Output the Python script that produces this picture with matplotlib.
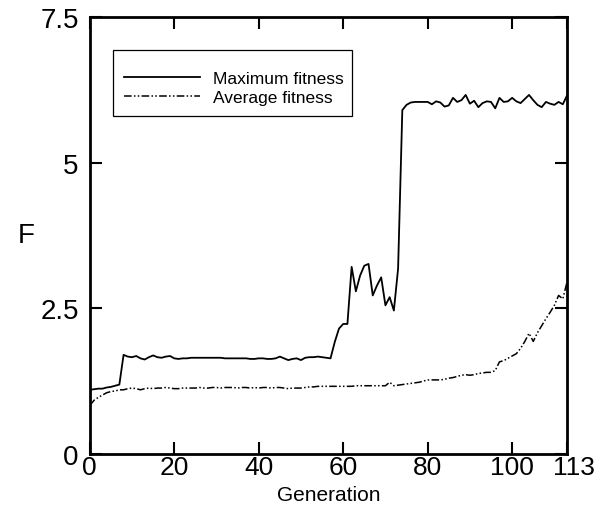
import numpy as np
import matplotlib
matplotlib.use("Agg")
import matplotlib.pyplot as plt
import matplotlib.transforms as mtransforms
from matplotlib.patches import Rectangle

plt.rcParams['font.family'] = ['Liberation Sans', 'DejaVu Sans']

# generations 0..113
generation = np.arange(0, 114)

max_fit = [1.10, 1.11, 1.12, 1.12, 1.14, 1.15, 1.17, 1.19, 1.70, 1.67,
           1.66, 1.68, 1.64, 1.62, 1.66, 1.69, 1.66, 1.65, 1.67, 1.68,
           1.64, 1.63, 1.64, 1.64, 1.65, 1.65, 1.65, 1.65, 1.65, 1.65,
           1.65, 1.65, 1.64, 1.64, 1.64, 1.64, 1.64, 1.64, 1.63, 1.63,
           1.64, 1.64, 1.63, 1.63, 1.64, 1.67, 1.64, 1.61, 1.63, 1.64,
           1.61, 1.65, 1.66, 1.66, 1.67, 1.66, 1.65, 1.64, 1.92, 2.15,
           2.23, 2.23, 3.21, 2.79, 3.06, 3.23, 3.26, 2.72, 2.89, 3.03,
           2.55, 2.69, 2.46, 3.18, 5.90, 5.99, 6.03, 6.04, 6.04, 6.04,
           6.04, 6.00, 6.05, 6.03, 5.96, 5.98, 6.11, 6.04, 6.07, 6.16,
           6.01, 6.06, 5.95, 6.02, 6.05, 6.04, 5.93, 6.11, 6.04, 6.05,
           6.11, 6.05, 6.02, 6.09, 6.16, 6.07, 5.99, 5.95, 6.04, 6.01,
           5.99, 6.04, 6.00, 6.15]

avg_fit = [0.83, 0.92, 0.97, 1.01, 1.05, 1.07, 1.08, 1.10, 1.10, 1.12,
           1.13, 1.12, 1.10, 1.12, 1.13, 1.12, 1.13, 1.13, 1.14, 1.13,
           1.12, 1.12, 1.13, 1.13, 1.13, 1.13, 1.14, 1.13, 1.13, 1.14,
           1.14, 1.13, 1.14, 1.14, 1.14, 1.13, 1.14, 1.14, 1.13, 1.14,
           1.13, 1.14, 1.14, 1.13, 1.14, 1.14, 1.13, 1.12, 1.13, 1.13,
           1.13, 1.14, 1.15, 1.15, 1.16, 1.16, 1.16, 1.16, 1.16, 1.16,
           1.16, 1.16, 1.16, 1.17, 1.17, 1.17, 1.17, 1.17, 1.17, 1.17,
           1.17, 1.23, 1.17, 1.18, 1.19, 1.20, 1.21, 1.22, 1.23, 1.25,
           1.27, 1.27, 1.27, 1.27, 1.28, 1.30, 1.31, 1.33, 1.35, 1.36,
           1.35, 1.36, 1.38, 1.39, 1.40, 1.40, 1.43, 1.58, 1.60, 1.64,
           1.68, 1.72, 1.81, 1.93, 2.07, 1.93, 2.08, 2.20, 2.32, 2.43,
           2.55, 2.72, 2.66, 2.95]

xticks = [0, 20, 40, 60, 80, 100, 113]
yticks = [0, 2.5, 5, 7.5]
ytick_labels = ['0', '2.5', '5', '7.5']

fig = plt.figure(figsize=(6.15, 5.1), dpi=100)
ax = fig.add_axes([0.146, 0.108, 0.776, 0.857])

ax.plot(generation, max_fit, color='black', lw=1.3, label='Maximum fitness')
ax.plot(generation, avg_fit, color='black', lw=1.1,
        linestyle=(0, (5, 1.5, 1, 1.5, 1, 1.5)), label='Average fitness')

ax.set_xlim(0, 113)
ax.set_ylim(0, 7.5)
ax.set_xticks(xticks)
ax.set_yticks(yticks)
ax.set_yticklabels(ytick_labels)
ax.tick_params(direction='in', length=8.5, width=1.5, labelsize=20,
               top=True, right=True)
ax.tick_params(axis='y', pad=8)
ax.tick_params(axis='x', pad=1, labelsize=19)
for s in ax.spines.values():
    s.set_linewidth(2)

# the last label sits a little to the right in the original
last = ax.get_xticklabels()[-1]
last.set_transform(last.get_transform() +
                   mtransforms.ScaledTranslation(0.07, 0, fig.dpi_scale_trans))

ax.set_xlabel('Generation', fontsize=15, va='center')
ax.xaxis.set_label_coords(0.5, -0.092)
ax.set_ylabel('F', fontsize=20, rotation=0, ha='center', va='center')
ax.yaxis.set_label_coords(-0.134, 0.5)

# legend box drawn by hand, entries without frame
ax.add_patch(Rectangle((0.048, 0.773), 0.501, 0.151, transform=ax.transAxes,
                       fill=False, edgecolor='black', lw=0.9, zorder=5))
leg = ax.legend(loc='upper left', bbox_to_anchor=(0.071, 0.877), fontsize=12.5,
                frameon=False, handlelength=4.4, handletextpad=0.75,
                borderpad=0, labelspacing=0.25, borderaxespad=0)

fig.savefig('out.png', dpi=100)
